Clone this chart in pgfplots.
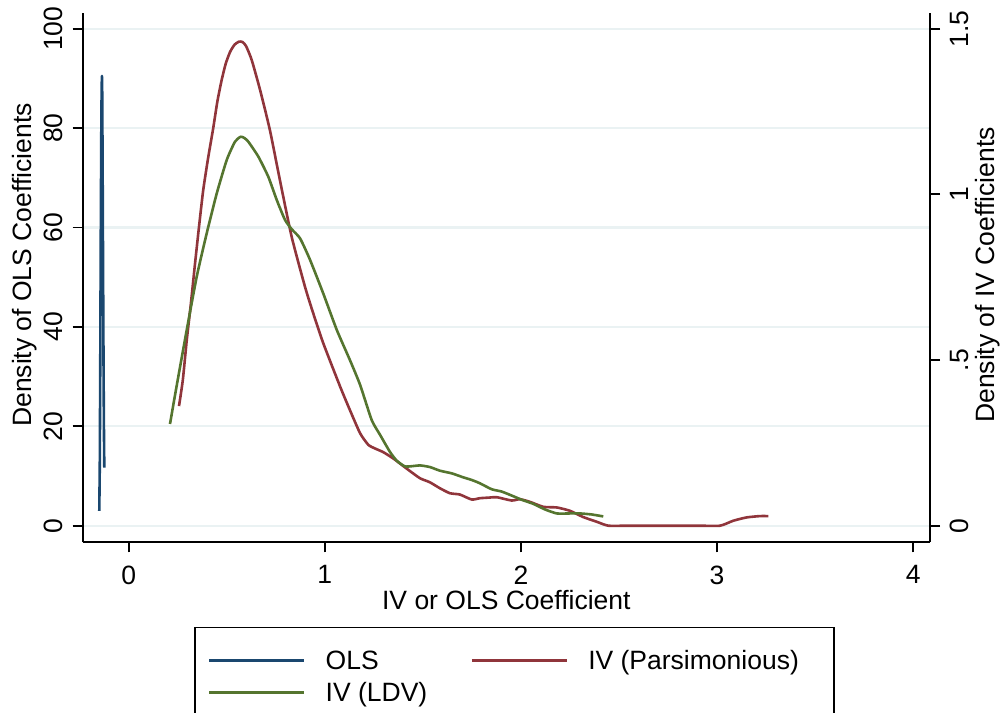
\documentclass[border=0pt]{standalone}
\usepackage{fontspec}
\setmainfont{Liberation Sans}
\usepackage{pgfplots}
\pgfplotsset{compat=1.18}
\definecolor{stnavy}{RGB}{26,71,111}
\definecolor{stmaroon}{RGB}{144,53,59}
\definecolor{stgreen}{RGB}{85,117,47}
\definecolor{stgrid}{RGB}{234,242,243}
\newcommand{\fs}{\fontsize{13.25}{15.9}\selectfont}
\begin{document}
\fs
\begin{tikzpicture}
\pgfplotsset{
  common/.style={
    scale only axis, width=423.65pt, height=264.8pt,
    xmin=-0.2346, xmax=4.086,
    at={(0pt,0pt)}, anchor=south west,
    tick align=outside, major tick length=5pt,
    tick style={black, line width=0.9pt},
    axis line style={black, line width=0.9pt, -},
    /pgf/number format/assume math mode=true,
    tick label style={font=\fs, inner sep=0pt},
    label style={font=\fs},
  }
}
% OLS axis (left)
\begin{axis}[common,
  axis x line*=bottom, axis y line*=left,
  ymin=-3.34, ymax=103.22,
  xtick={0,1,2,3,4}, xticklabels={0,1,2,3,4},
  ytick={0,20,40,60,80,100}, yticklabels={0,20,40,60,80,100},
  ymajorgrids, grid style={stgrid, line width=1.1pt},
  yticklabel style={rotate=90, anchor=south},
  xticklabel style={anchor=north},
  xticklabel shift=6.5pt, yticklabel shift=5pt,
  xlabel={IV or OLS Coefficient},
  x label style={at={(axis description cs:0.5,-0.1090)}, anchor=center},
  ylabel={Density of OLS Coefficients},
  y label style={at={(axis description cs:-0.0681,0.5236)}, anchor=center},
]
\addplot[stnavy, line width=1.3pt, line join=round] coordinates {
(-0.1500,3.0) (-0.1475,12) (-0.1450,33) (-0.1425,58) (-0.1400,78)
(-0.1380,88) (-0.1365,90.5) (-0.1350,87) (-0.1330,72) (-0.1305,50)
(-0.1280,30) (-0.1260,18) (-0.1244,11.7)
};
\end{axis}
% IV axis (right)
\begin{axis}[common,
  axis x line=none, axis y line*=right,
  ymin=-0.0501, ymax=1.5483,
  ytick={0,0.5,1,1.5}, yticklabels={0,.5,1,1.5},
  yticklabel style={rotate=90, anchor=north},
  yticklabel shift=5pt,
  ylabel={Density of IV Coefficients},
  y label style={at={(axis description cs:1.0685,0.5047)}, anchor=center},
  legend columns=2,
  legend cell align=left,
  legend image code/.code={\draw[#1] (0pt,0pt) -- (47.5pt,0pt);},
  legend style={at={(axis description cs:0.5096,-0.16)}, anchor=north,
    draw=black, line width=0.7pt, font=\fs,
    inner xsep=6.5pt, inner ysep=11.5pt, row sep=6.5pt,
    nodes={inner sep=0pt, text height=9.5pt, text depth=0pt},
    /tikz/every odd column/.append style={column sep=10pt},
    /tikz/every even column/.append style={column sep=21.7pt}},
]
\addlegendimage{stnavy, line width=1.3pt}
\addlegendentry{OLS}
\addplot[stmaroon, line width=1.3pt, line join=round, smooth, tension=0.35] coordinates {
(0.2565,0.361) (0.276,0.440) (0.296,0.560) (0.317,0.670) (0.338,0.790)
(0.359,0.905) (0.380,1.013) (0.405,1.110) (0.431,1.200)
(0.452,1.280) (0.474,1.345) (0.495,1.395) (0.517,1.430) (0.540,1.452) (0.5625,1.461)
(0.580,1.460) (0.598,1.448) (0.627,1.406)
(0.670,1.315) (0.720,1.194) (0.771,1.043) (0.831,0.872) (0.899,0.721)
(0.941,0.641) (0.992,0.551) (1.078,0.420) (1.128,0.349) (1.180,0.279)
(1.222,0.244) (1.260,0.232) (1.298,0.222) (1.349,0.203) (1.409,0.176)
(1.434,0.165) (1.486,0.143) (1.536,0.131) (1.587,0.113) (1.638,0.098)
(1.689,0.094) (1.749,0.079) (1.791,0.083) (1.842,0.085) (1.877,0.086)
(1.953,0.076) (1.995,0.080) (2.046,0.072) (2.114,0.057) (2.183,0.055)
(2.250,0.045) (2.318,0.026) (2.386,0.012) (2.446,0.0) (2.550,0.0) (2.900,0.0) (3.015,0.0)
(3.083,0.015) (3.151,0.025) (3.219,0.029) (3.262,0.029)
};
\addlegendentry{IV (Parsimonious)\hspace*{11pt}}
\addplot[stgreen, line width=1.3pt, line join=round, smooth, tension=0.35] coordinates {
(0.2106,0.307) (0.232,0.380) (0.253,0.450) (0.296,0.591) (0.347,0.752) (0.398,0.883)
(0.449,1.003) (0.500,1.104) (0.542,1.159) (0.571,1.174) (0.590,1.170) (0.610,1.159)
(0.661,1.114) (0.712,1.053) (0.755,0.983) (0.797,0.923) (0.831,0.895)
(0.874,0.867) (0.925,0.802) (0.992,0.701) (1.061,0.591) (1.128,0.500)
(1.180,0.425) (1.239,0.319) (1.281,0.275) (1.332,0.223) (1.367,0.196)
(1.409,0.179) (1.450,0.180) (1.486,0.182) (1.536,0.177) (1.587,0.166)
(1.647,0.158) (1.706,0.146) (1.749,0.138) (1.791,0.128) (1.851,0.110)
(1.902,0.103) (1.961,0.089) (2.005,0.078) (2.063,0.066) (2.123,0.049)
(2.183,0.037) (2.250,0.037) (2.301,0.037) (2.360,0.034) (2.420,0.028)
};
\addlegendentry{IV (LDV)}
\end{axis}
\pgfresetboundingbox
\useasboundingbox (-41.35pt,-85.35pt) rectangle (460.15pt,271.15pt);
\end{tikzpicture}
\end{document}
